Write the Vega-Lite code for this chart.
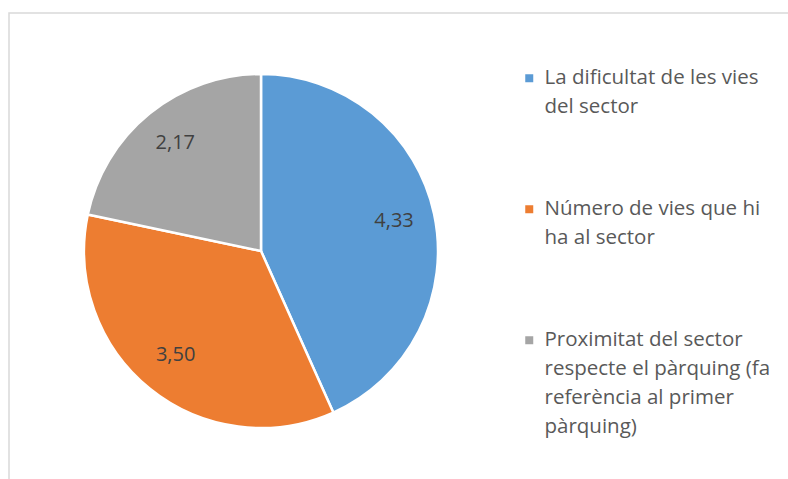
{
  "$schema": "https://vega.github.io/schema/vega-lite/v6.json",
  "width": 782,
  "height": 469,
  "autosize": {"type": "none"},
  "padding": {"left": 9, "top": 13, "right": -3, "bottom": -3},
  "background": "white",
  "view": {"stroke": "#d9d9d9", "strokeWidth": 1.5, "fill": "white"},
  "config": {
    "view": {"stroke": "#d9d9d9", "strokeWidth": 1.5},
    "style": {"guide-label": {"lineHeight": 29}}
  },
  "data": {
    "values": [
      {"categoria": "La dificultat de les vies del sector", "valor": 4.33, "etiqueta": "4,33", "ordre": 1},
      {"categoria": "Número de vies que hi ha al sector", "valor": 3.50, "etiqueta": "3,50", "ordre": 2},
      {"categoria": "Proximitat del sector respecte el pàrquing (fa referència al primer pàrquing)", "valor": 2.17, "etiqueta": "2,17", "ordre": 3}
    ]
  },
  "encoding": {
    "theta": {"field": "valor", "type": "quantitative", "stack": true},
    "order": {"field": "ordre", "type": "quantitative"}
  },
  "layer": [
    {
      "mark": {"type": "arc", "outerRadius": 177, "x": 252, "y": 238, "stroke": "white", "strokeWidth": 2.5},
      "encoding": {
        "color": {
          "field": "categoria",
          "type": "nominal",
          "sort": ["La dificultat de les vies del sector", "Número de vies que hi ha al sector", "Proximitat del sector respecte el pàrquing (fa referència al primer pàrquing)"],
          "scale": {
            "domain": ["La dificultat de les vies del sector", "Número de vies que hi ha al sector", "Proximitat del sector respecte el pàrquing (fa referència al primer pàrquing)"],
            "range": ["#5B9BD5", "#ED7D31", "#A5A5A5"]
          },
          "legend": {
            "title": null,
            "orient": "none",
            "legendX": 510,
            "legendY": 55,
            "symbolType": "square",
            "symbolSize": 64,
            "symbolStrokeWidth": 0,
            "labelFont": "Open Sans",
            "labelFontSize": 20.5,
            "labelColor": "#595959",
            "labelOffset": 5,
            "labelLimit": 300,
            "rowPadding": 81,
            "labelExpr": "datum.label == 'La dificultat de les vies del sector' ? ['La dificultat de les vies', 'del sector'] : datum.label == 'Número de vies que hi ha al sector' ? ['Número de vies que hi', 'ha al sector'] : ['Proximitat del sector', 'respecte el pàrquing (fa', 'referència al primer', 'pàrquing)']"
          }
        }
      }
    },
    {
      "mark": {"type": "text", "radius": 136, "x": 252, "y": 236, "font": "Open Sans", "fontSize": 20, "fill": "#404040"},
      "encoding": {"text": {"field": "etiqueta", "type": "nominal"}}
    }
  ]
}
